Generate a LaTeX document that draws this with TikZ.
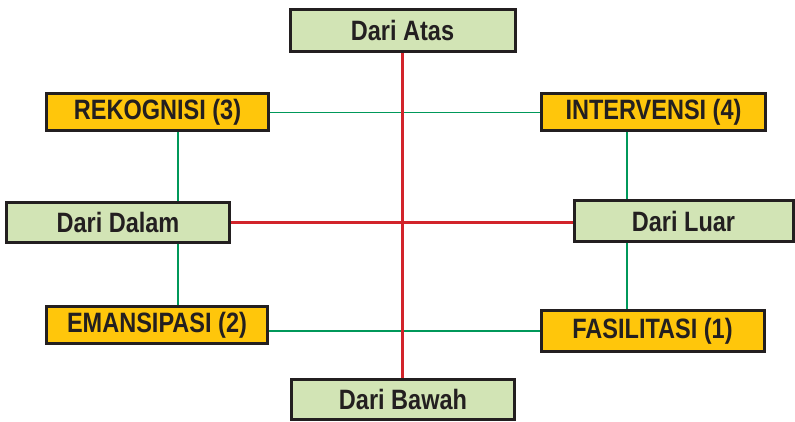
\documentclass[tikz,border=0pt]{standalone}
\usepackage{fontspec}
\setmainfont{Liberation Sans}[FakeStretch=0.84]
\usetikzlibrary{backgrounds}
\definecolor{boxgreen}{HTML}{D2E4B5}
\definecolor{boxyellow}{HTML}{FFC60B}
\definecolor{boxline}{HTML}{231F20}
\definecolor{axisred}{HTML}{D2232A}
\definecolor{linkgreen}{HTML}{00985A}
\begin{document}
\begin{tikzpicture}[x=1pt,y=-1pt]

\tikzstyle{arah} = [rectangle, draw=boxline, line width=3pt, fill=boxgreen, text=boxline, font=\bfseries\fontsize{28}{30}\selectfont, inner sep=0pt, text centered, minimum width=222pt, minimum height=39pt]
\tikzstyle{peran} = [arah, fill=boxyellow, minimum height=37pt]
\tikzstyle{sumbu} = [axisred, line width=3pt]
\tikzstyle{hubung} = [linkgreen, line width=1.6pt]

\useasboundingbox (0,0) rectangle (795,422);

% Define nodes
\node (atas) [arah, minimum width=225pt, minimum height=42pt] at (402.5,30.5) {Dari Atas};
\node (bawah) [arah, minimum width=223pt, minimum height=40pt] at (403,399) {Dari Bawah};
\node (dalam) [arah, minimum width=223pt, minimum height=40pt] at (118,222.5) {Dari Dalam};
\node (luar) [arah, minimum width=219pt, minimum height=41pt] at (683.5,221) {Dari Luar};
\node (rekognisi) [peran] at (157.5,112.5) {REKOGNISI (3)};
\node (intervensi) [peran, minimum width=224pt] at (653.5,112.5) {INTERVENSI (4)};
\node (emansipasi) [peran, minimum width=221pt] at (157,325) {EMANSIPASI (2)};
\node (fasilitasi) [peran, minimum width=223pt, minimum height=41pt] at (652.5,331) {FASILITASI (1)};

\coordinate (kiri) at (178,0);
\coordinate (kanan) at (627,0);

% Draw lines
\begin{scope}[on background layer]
\draw [hubung] (rekognisi.east) -- (intervensi.west);
\draw [hubung] (emansipasi.east |- fasilitasi.west) -- (fasilitasi.west);
\draw [hubung] (rekognisi.south -| kiri) -- (dalam.north -| kiri);
\draw [hubung] (dalam.south -| kiri) -- (emansipasi.north -| kiri);
\draw [hubung] (intervensi.south -| kanan) -- (luar.north -| kanan);
\draw [hubung] (luar.south -| kanan) -- (fasilitasi.north -| kanan);
\draw [sumbu] (atas.south) -- (atas.south |- bawah.north);
\draw [sumbu] (dalam.east) -- (dalam.east -| luar.west);
\end{scope}

\end{tikzpicture}
\end{document}
